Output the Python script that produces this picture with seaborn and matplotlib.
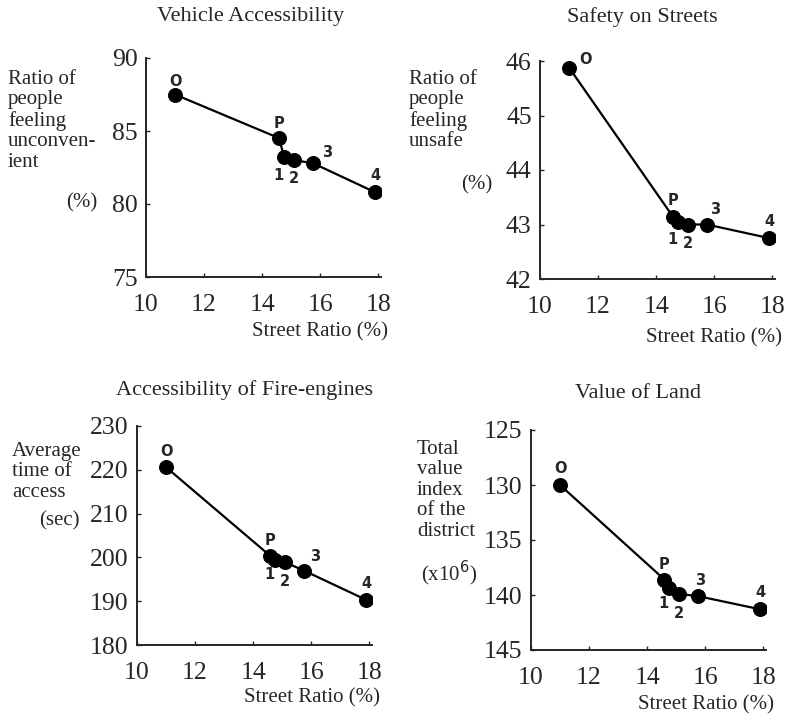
# Street ratio vs. four urban indicators (4 small line charts)
import matplotlib
matplotlib.use("Agg")
import pandas as pd
import seaborn as sns
import matplotlib.pyplot as plt

# -------------------------------
# Data
# -------------------------------
point_labels = ["O", "P", "1", "2", "3", "4"]
street_ratio = [11.0, 14.6, 14.75, 15.1, 15.75, 17.9]

vehicle = [87.5, 84.5, 83.2, 83.0, 82.8, 80.8]
safety = [45.88, 43.13, 43.05, 43.0, 43.0, 42.75]
fire = [220.6, 200.3, 199.5, 198.9, 197.0, 190.3]
land = [130.0, 138.6, 139.35, 139.9, 140.1, 141.3]

vehicle_ticks = [75, 80, 85, 90]
safety_ticks = [42, 43, 44, 45, 46]
fire_ticks = [180, 190, 200, 210, 220, 230]
land_ticks = [125, 130, 135, 140, 145]
x_ticks = [10, 12, 14, 16, 18]

# -------------------------------
# Style
# -------------------------------
sns.set_style("ticks")
plt.rcParams["font.family"] = ["Liberation Serif", "DejaVu Serif"]

W, H = 788, 716
fig = plt.figure(figsize=(W / 100, H / 100), dpi=100)


def px_axes(left, right, top, bottom):
    return fig.add_axes([left / W, 1 - bottom / H, (right - left) / W, (bottom - top) / H])


def px_text(x, y, s, **kw):
    fig.text(x / W, 1 - y / H, s, **kw)


# label offsets (points) for O, P, 1, 2, 3, 4
def draw_panel(ax, values, yticks, ylim, offsets):
    df = pd.DataFrame({"ratio": street_ratio, "value": values, "name": point_labels})
    sns.lineplot(data=df, x="ratio", y="value", ax=ax, color="black", lw=1.6,
                 marker="o", markersize=10, markeredgecolor="black", sort=False)
    for (_, row), off in zip(df.iterrows(), offsets):
        ax.annotate(row["name"], (row["ratio"], row["value"]), xytext=off,
                    textcoords="offset points", ha="center", va="center",
                    fontsize=10.5, fontweight="bold", family="DejaVu Sans")
    ax.set_xlim(10, 18.1)
    ax.set_ylim(*ylim)
    ax.set_xticks(x_ticks)
    ax.set_yticks(yticks)
    ax.set_xlabel("")
    ax.set_ylabel("")
    ax.tick_params(direction="in", length=3, width=1, labelsize=18.5)
    ax.tick_params(axis="x", pad=12)
    ax.tick_params(axis="y", pad=6)
    for s in ["top", "right"]:
        ax.spines[s].set_visible(False)
    for s in ["left", "bottom"]:
        ax.spines[s].set_linewidth(1.4)


label_kw = dict(fontsize=15, linespacing=1.1)

# --- (A) Vehicle Accessibility ---
ax1 = px_axes(146, 381, 58, 277)
draw_panel(ax1, vehicle, vehicle_ticks, (75, 90),
           [(0, 9), (0, 11), (-4, -13), (0, -13), (10, 8), (0, 12)])
px_text(251, 17, "Vehicle Accessibility", ha="center", va="center", fontsize=16)
px_text(8, 70, "Ratio of\npeople\nfeeling\nunconven-\nient", ha="left", va="top", **label_kw)
px_text(97, 203, "(%)", ha="right", va="center", **label_kw)
px_text(388, 332, "Street Ratio (%)", ha="right", va="center", fontsize=15)

# --- (B) Safety on Streets ---
ax2 = px_axes(540, 775, 61, 279)
draw_panel(ax2, safety, safety_ticks, (42, 46),
           [(12, 6), (0, 12), (-4, -13), (0, -14), (6, 11), (0, 12)])
px_text(642, 17, "Safety on Streets", ha="center", va="center", fontsize=16)
px_text(409, 70, "Ratio of\npeople\nfeeling\nunsafe", ha="left", va="top", **label_kw)
px_text(492, 185, "(%)", ha="right", va="center", **label_kw)
px_text(782, 338, "Street Ratio (%)", ha="right", va="center", fontsize=15)

# --- (C) Accessibility of Fire-engines ---
ax3 = px_axes(137, 372, 426, 645)
draw_panel(ax3, fire, fire_ticks, (180, 230),
           [(0, 11), (0, 11), (-4, -11), (0, -14), (8, 10), (0, 12)])
px_text(245, 390, "Accessibility of Fire-engines", ha="center", va="center", fontsize=16)
px_text(12, 442, "Average\ntime of\naccess", ha="left", va="top", **label_kw)
px_text(80, 521, "(sec)", ha="right", va="center", **label_kw)
px_text(380, 698, "Street Ratio (%)", ha="right", va="center", fontsize=15)

# --- (D) Value of Land ---
ax4 = px_axes(531, 766, 430, 650)
draw_panel(ax4, land, land_ticks, (145, 125),
           [(0, 12), (0, 11), (-4, -11), (0, -14), (2, 11), (0, 12)])
px_text(638, 393, "Value of Land", ha="center", va="center", fontsize=16)
px_text(417, 440, "Total\nvalue\nindex\nof the\ndistrict", ha="left", va="top", **label_kw)
px_text(421, 573, "(x10$^6$)", ha="left", va="center", **label_kw)
px_text(774, 705, "Street Ratio (%)", ha="right", va="center", fontsize=15)

fig.savefig("out.png", dpi=100, facecolor="white")
plt.close(fig)
